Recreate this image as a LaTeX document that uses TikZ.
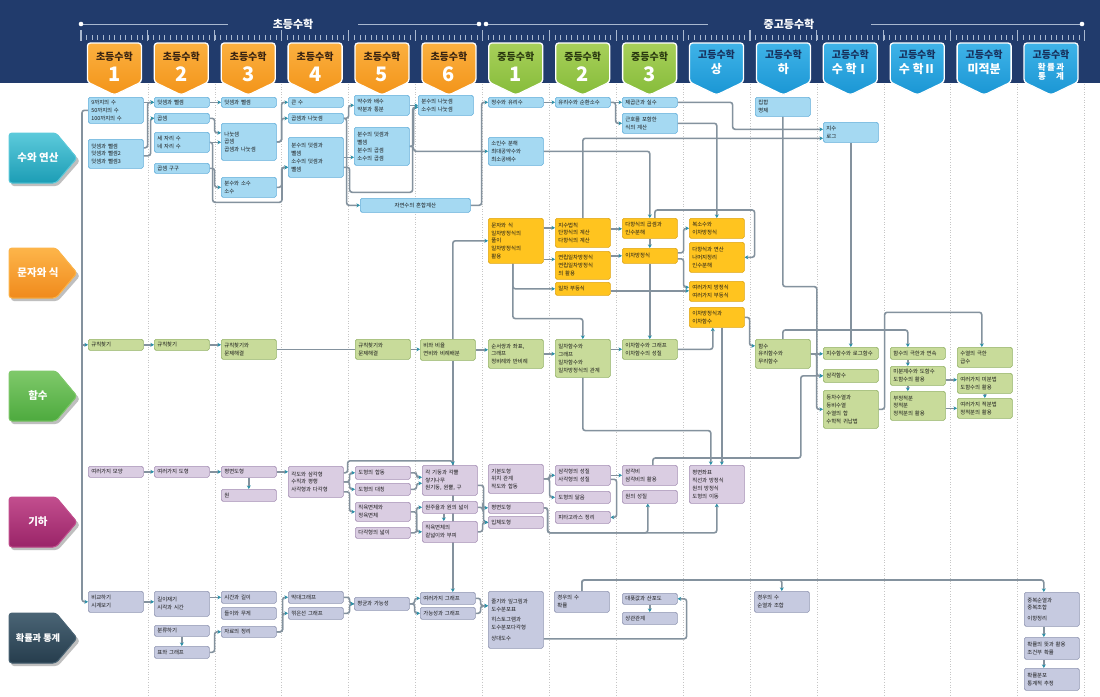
\documentclass[tikz,border=0pt]{standalone}
\usepackage{fontspec}
\setmainfont{Noto Sans CJK KR}
\usepackage{tikz}
\usetikzlibrary{positioning}
\usetikzlibrary{arrows.meta,calc}

\pgfdeclarelayer{grid}
\pgfdeclarelayer{wires}
\pgfsetlayers{grid,wires,main}

\definecolor{headnavy}{HTML}{213B6C}
\definecolor{rulec}{HTML}{A9B8D0}
\definecolor{elem}{HTML}{F39419}
\definecolor{elemhi}{HTML}{FBB040}
\definecolor{midg}{HTML}{86BC3A}
\definecolor{midghi}{HTML}{A8D05A}
\definecolor{high}{HTML}{1A96D4}
\definecolor{highhi}{HTML}{3FB3E8}
\definecolor{elemtxt}{HTML}{3A2412}
\definecolor{midtxt}{HTML}{2B3A10}
\definecolor{hightxt}{HTML}{17305C}
\definecolor{numfill}{HTML}{A5D9F2}
\definecolor{numline}{HTML}{62AEDA}
\definecolor{exprfill}{HTML}{FFC41F}
\definecolor{exprline}{HTML}{E0A512}
\definecolor{funcfill}{HTML}{C8DB9A}
\definecolor{funcline}{HTML}{93B266}
\definecolor{geomfill}{HTML}{DACDE2}
\definecolor{geomline}{HTML}{A58FB4}
\definecolor{statfill}{HTML}{C6CAE0}
\definecolor{statline}{HTML}{9096B2}
\definecolor{wirec}{HTML}{84929E}
\definecolor{tipc}{HTML}{2B90A8}
\definecolor{numband}{HTML}{1C9DB5}
\definecolor{numhi}{HTML}{5CCADB}
\definecolor{exprband}{HTML}{F08A1C}
\definecolor{exprhi}{HTML}{FDB54A}
\definecolor{funcband}{HTML}{4DAA3E}
\definecolor{funchi}{HTML}{7FC96A}
\definecolor{geomband}{HTML}{9A2468}
\definecolor{geomhi}{HTML}{C24E8E}
\definecolor{statband}{HTML}{263D4D}
\definecolor{stathi}{HTML}{4A6475}

\begin{document}
\begin{tikzpicture}[x=1pt, y=-1pt,
    box/.style={anchor=north west, rounded corners=1.6pt, line width=0.6pt, inner xsep=3pt, inner ysep=0.5pt, text width=49pt, align=left, font=\fontsize{5.4}{7.8}\selectfont, text=black!90},
    numbox/.style={box, fill=numfill, draw=numline},
    exprbox/.style={box, fill=exprfill, draw=exprline},
    funcbox/.style={box, fill=funcfill, draw=funcline},
    geombox/.style={box, fill=geomfill, draw=geomline},
    statbox/.style={box, fill=statfill, draw=statline},
    wire/.style={draw=wirec, line width=1.6pt, rounded corners=2.5pt},
    link/.style={wire, -{Stealth[length=3.6pt,width=4pt,color=tipc]}},
    gridline/.style={draw=gray!45, dotted, line width=0.6pt},
    headline/.style={draw=rulec, line width=0.9pt},
    banner/.style={rounded corners=3pt, line width=1pt},
    badge/.style={rounded corners=3pt, draw=white, line width=1.3pt},
    badgetop/.style={font=\bfseries\fontsize{10}{10}\selectfont},
    badgenum/.style={text=white, font=\bfseries\fontsize{20}{20}\selectfont},
    badgesub/.style={text=white, font=\bfseries\fontsize{12}{12}\selectfont},
    rowlabel/.style={text=white, font=\bfseries\fontsize{10.5}{12}\selectfont},
    headtext/.style={text=white, font=\bfseries\fontsize{11}{12}\selectfont}]

\useasboundingbox (0,0) rectangle (1100,696);

\begin{pgfonlayer}{grid}
    \fill[white] (0,0) rectangle (1100,696);
    \fill[headnavy] (0,0) rectangle (1100,83);
    \foreach \k in {1,...,15}
        \draw[gridline] ({81+66.9*\k},84) -- ({81+66.9*\k},696);
\end{pgfonlayer}

% header: titles and ruler
\draw[headline] (81,24) -- (228,24);
\draw[headline] (358,24) -- (479,24);
\draw[headline] (486,24) -- (708,24);
\draw[headline] (871,24) -- (1082,24);
\fill[white] (81,24) circle (2.3pt);
\fill[white] (479,24) circle (2.3pt);
\fill[white] (486,24) circle (2.3pt);
\fill[white] (1082,24) circle (2.3pt);
\node[headtext] (hElem) at (293,24) {초등수학};
\node[headtext] (hHigh) at (789,24) {중고등수학};
\foreach \k in {0,...,180}
    \draw[rulec, line width=0.5pt] ({81+5.575*\k},35) -- ({81+5.575*\k},40);
\foreach \k in {0,...,15}
    \draw[rulec, line width=1.1pt] ({81+66.9*\k},30) -- ({81+66.9*\k},41);

% grade badges
\foreach \n [count=\i from 0] in {1,2,3,4,5,6}{
    \pgfmathsetmacro\cx{114.4+66.9*\i}
    \filldraw[badge, top color=elemhi, bottom color=elem] (\cx-27,43) -- (\cx+27,43) -- (\cx+27,82) -- (\cx,95) -- (\cx-27,82) -- cycle;
    \node[badgetop, text=elemtxt] (be\n) at (\cx,57) {초등수학};
    \node[badgenum] (bne\n) at (\cx,74) {\n};
}
\foreach \n [count=\i from 6] in {1,2,3}{
    \pgfmathsetmacro\cx{114.4+66.9*\i}
    \filldraw[badge, top color=midghi, bottom color=midg] (\cx-27,43) -- (\cx+27,43) -- (\cx+27,82) -- (\cx,95) -- (\cx-27,82) -- cycle;
    \node[badgetop, text=midtxt] (bm\n) at (\cx,57) {중등수학};
    \node[badgenum] (bnm\n) at (\cx,74) {\n};
}
\foreach \s [count=\i from 9] in {상,하,{수 학Ⅰ},{수 학Ⅱ},미적분,{}}{
    \pgfmathsetmacro\cx{114.4+66.9*\i}
    \filldraw[badge, top color=highhi, bottom color=high] (\cx-27,43) -- (\cx+27,43) -- (\cx+27,82) -- (\cx,95) -- (\cx-27,82) -- cycle;
    \node[badgetop, text=hightxt] (bh\i) at (\cx,55) {고등수학};
    \node[badgesub] (bs\i) at (\cx,69) {\s};
}
\node[badgesub, font=\bfseries\fontsize{8.5}{9}\selectfont, align=center] (bsStat) at (1051,72) {확\,률\,과\\통\hspace{1.2em}계};

% row banners
\fill[black!25, rounded corners=3pt] (11,136) -- (58,136) -- (80,161) -- (58,186) -- (11,186) -- cycle;
\filldraw[banner, draw=numhi, top color=numhi, bottom color=numband] (9,133) -- (56,133) -- (77,158) -- (56,183) -- (9,183) -- cycle;
\node[rowlabel] (rNum) at (38,158) {수와 연산};
\fill[black!25, rounded corners=3pt] (11,251) -- (58,251) -- (80,276) -- (58,301) -- (11,301) -- cycle;
\filldraw[banner, draw=exprhi, top color=exprhi, bottom color=exprband] (9,248) -- (56,248) -- (77,273) -- (56,298) -- (9,298) -- cycle;
\node[rowlabel] (rExpr) at (38,273) {문자와 식};
\fill[black!25, rounded corners=3pt] (11,374) -- (58,374) -- (80,399) -- (58,424) -- (11,424) -- cycle;
\filldraw[banner, draw=funchi, top color=funchi, bottom color=funcband] (9,371) -- (56,371) -- (77,396) -- (56,421) -- (9,421) -- cycle;
\node[rowlabel] (rFunc) at (38,396) {함수};
\fill[black!25, rounded corners=3pt] (11,500) -- (58,500) -- (80,525) -- (58,550) -- (11,550) -- cycle;
\filldraw[banner, draw=geomhi, top color=geomhi, bottom color=geomband] (9,497) -- (56,497) -- (77,522) -- (56,547) -- (9,547) -- cycle;
\node[rowlabel] (rGeom) at (38,522) {기하};
\fill[black!25, rounded corners=3pt] (11,616) -- (58,616) -- (80,641) -- (58,666) -- (11,666) -- cycle;
\filldraw[banner, draw=stathi, top color=stathi, bottom color=statband] (9,613) -- (56,613) -- (77,638) -- (56,663) -- (9,663) -- cycle;
\node[rowlabel, font=\bfseries\fontsize{9.2}{10}\selectfont] (rStat) at (38,638) {확률과 통계};

% 수와 연산
\node[numbox, minimum height=26pt] (n1a) at (88,97) {9까지의 수\\50까지의 수\\100까지의 수};
\node[numbox, minimum height=29pt] (n1b) at (88,139) {덧셈과 뺄셈\\덧셈과 뺄셈2\\덧셈과 뺄셈3};
\node[numbox, minimum height=10pt] (n2a) at (154,97) {덧셈과 뺄셈};
\node[numbox, minimum height=10pt] (n2b) at (154,113) {곱셈};
\node[numbox, minimum height=20pt] (n2c) at (154,132) {세 자리 수\\네 자리 수};
\node[numbox, minimum height=10pt] (n2d) at (154,163) {곱셈 구구};
\node[numbox, minimum height=10pt] (n3a) at (221,97) {덧셈과 뺄셈};
\node[numbox, minimum height=37pt] (n3b) at (221,123) {나눗셈\\곱셈\\곱셈과 나눗셈};
\node[numbox, minimum height=20pt] (n3c) at (221,177) {분수와 소수\\소수};
\node[numbox, minimum height=10pt] (n4a) at (288,97) {큰 수};
\node[numbox, minimum height=10pt] (n4b) at (288,113) {곱셈과 나눗셈};
\node[numbox, minimum height=40pt] (n4c) at (288,137) {분수의 덧셈과\\뺄셈\\소수의 덧셈과\\뺄셈};
\node[numbox, minimum height=20pt] (n5a) at (354,95) {약수와 배수\\약분과 통분};
\node[numbox, minimum height=38pt] (n5b) at (354,127) {분수의 덧셈과\\뺄셈\\분수의 곱셈\\소수의 곱셈};
\node[numbox, minimum height=14pt, text width=104pt, align=center] (n5c) at (360,198) {자연수의 혼합계산};
\node[numbox, minimum height=20pt] (n6a) at (418,95) {분수의 나눗셈\\소수의 나눗셈};
\node[numbox, minimum height=10pt] (n7a) at (488,97) {정수와 유리수};
\node[numbox, minimum height=28pt] (n7b) at (488,137) {소인수 분해\\최대공약수와\\최소공배수};
\node[numbox, minimum height=10pt] (n8a) at (555,97) {유리수와 순환소수};
\node[numbox, minimum height=10pt] (n9a) at (622,97) {제곱근과 실수};
\node[numbox, minimum height=20pt] (n9b) at (622,113) {근호를 포함한\\식의 계산};
\node[numbox, minimum height=19pt] (n11a) at (755,97) {집합\\명제};
\node[numbox, minimum height=20pt] (n12a) at (823,122) {지수\\로그};

% 문자와 식
\node[exprbox, minimum height=45pt] (e7a) at (488,218) {문자와 식\\일차방정식의\\풀이\\일차방정식의\\활용};
\node[exprbox, minimum height=29pt] (e8a) at (555,218) {지수법칙\\단항식의 계산\\다항식의 계산};
\node[exprbox, minimum height=28pt] (e8b) at (555,251) {연립일차방정식\\연립일차방정식\\의 활용};
\node[exprbox, minimum height=13pt] (e8c) at (555,282) {일차 부등식};
\node[exprbox, minimum height=20pt] (e9a) at (622,218) {다항식의 곱셈과\\인수분해};
\node[exprbox, minimum height=15pt] (e9b) at (622,248) {이차방정식};
\node[exprbox, minimum height=20pt] (e10a) at (689,218) {복소수와\\이차방정식};
\node[exprbox, minimum height=30pt] (e10b) at (689,242) {다항식과 연산\\나머지정리\\인수분해};
\node[exprbox, minimum height=20pt] (e10c) at (689,281) {여러가지 방정식\\여러가지 부등식};
\node[exprbox, minimum height=20pt] (e10d) at (689,307) {이차방정식과\\이차함수};

% 함수
\node[funcbox, minimum height=11pt] (f1) at (88,339) {규칙찾기};
\node[funcbox, minimum height=11pt] (f2) at (154,339) {규칙찾기};
\node[funcbox, minimum height=20pt] (f3) at (221,339) {규칙찾기와\\문제해결};
\node[funcbox, minimum height=20pt] (f5) at (355,339) {규칙찾기와\\문제해결};
\node[funcbox, minimum height=21pt] (f6) at (420,339) {비와 비율\\연비와 비례배분};
\node[funcbox, minimum height=29pt] (f7) at (488,339) {순서쌍과 좌표,\\그래프\\정비례와 반비례};
\node[funcbox, minimum height=38pt] (f8) at (555,339) {일차함수와\\그래프\\일차함수와\\일차방정식의 관계};
\node[funcbox, minimum height=20pt] (f9) at (622,339) {이차함수와 그래프\\이차함수의 성질};
\node[funcbox, minimum height=29pt] (f11) at (755,339) {함수\\유리함수와\\무리함수};
\node[funcbox, minimum height=12pt] (f12a) at (823,347) {지수함수와 로그함수};
\node[funcbox, minimum height=13pt] (f12b) at (823,369) {삼각함수};
\node[funcbox, minimum height=38pt] (f12c) at (823,390) {등차수열과\\등비수열\\수열의 합\\수학적 귀납법};
\node[funcbox, minimum height=12pt] (f13a) at (890,347) {함수의 극한과 연속};
\node[funcbox, minimum height=19pt] (f13b) at (890,366) {미분계수와 도함수\\도함수의 활용};
\node[funcbox, minimum height=29pt] (f13c) at (890,391) {부정적분\\정적분\\정적분의 활용};
\node[funcbox, minimum height=20pt] (f14a) at (957,347) {수열의 극한\\급수};
\node[funcbox, minimum height=20pt] (f14b) at (957,373) {여러가지 미분법\\도함수의 활용};
\node[funcbox, minimum height=20pt] (f14c) at (957,398) {여러가지 적분법\\정적분의 활용};

% 기하
\node[geombox, minimum height=11pt] (g1) at (88,466) {여러가지 모양};
\node[geombox, minimum height=11pt] (g2) at (154,466) {여러가지 도형};
\node[geombox, minimum height=11pt] (g3a) at (221,466) {평면도형};
\node[geombox, minimum height=12pt] (g3b) at (221,489) {원};
\node[geombox, minimum height=31pt] (g4) at (288,466) {각도와 삼각형\\수직과 평행\\사각형과 다각형};
\node[geombox, minimum height=13pt] (g5a) at (355,466) {도형의 합동};
\node[geombox, minimum height=12pt] (g5b) at (355,483) {도형의 대칭};
\node[geombox, minimum height=19pt] (g5c) at (355,502) {직육면체와\\정육면체};
\node[geombox, minimum height=11pt] (g5d) at (355,527) {다각형의 넓이};
\node[geombox, minimum height=30pt] (g6a) at (422,465) {각 기둥과 각뿔\\쌓기나무\\원기둥, 원뿔, 구};
\node[geombox, minimum height=12pt] (g6b) at (422,501) {원주율과 원의 넓이};
\node[geombox, minimum height=21pt] (g6c) at (422,521) {직육면체의\\겉넓이와 부피};
\node[geombox, minimum height=29pt] (g7a) at (488,464) {기본도형\\위치 관계\\작도와 합동};
\node[geombox, minimum height=11pt] (g7b) at (488,502) {평면도형};
\node[geombox, minimum height=12pt] (g7c) at (488,516) {입체도형};
\node[geombox, minimum height=20pt] (g8a) at (555,465) {삼각형의 성질\\사각형의 성질};
\node[geombox, minimum height=12pt] (g8b) at (555,491) {도형의 닮음};
\node[geombox, minimum height=12pt] (g8c) at (555,511) {피타고라스 정리};
\node[geombox, minimum height=20pt] (g9a) at (622,465) {삼각비\\삼각비의 활용};
\node[geombox, minimum height=13pt] (g9b) at (622,490) {원의 성질};
\node[geombox, minimum height=38pt] (g10) at (689,465) {평면좌표\\직선과 방정식\\원의 방정식\\도형의 이동};

% 확률과 통계
\node[statbox, minimum height=21pt] (p1) at (88,591) {비교하기\\시계보기};
\node[statbox, minimum height=25pt] (p2a) at (154,591) {길이재기\\시각과 시간};
\node[statbox, minimum height=11pt] (p2b) at (154,625) {분류하기};
\node[statbox, minimum height=12pt] (p2c) at (154,646) {표와 그래프};
\node[statbox, minimum height=12pt] (p3a) at (221,591) {시간과 길이};
\node[statbox, minimum height=12pt] (p3b) at (221,607) {들이와 무게};
\node[statbox, minimum height=11pt] (p3c) at (221,626) {자료의 정리};
\node[statbox, minimum height=12pt] (p4a) at (288,591) {막대그래프};
\node[statbox, minimum height=12pt] (p4b) at (288,607) {꺾은선 그래프};
\node[statbox, minimum height=13pt] (p5) at (354,597) {평균과 가능성};
\node[statbox, minimum height=12pt] (p6a) at (420,592) {여러가지 그래프};
\node[statbox, minimum height=12pt] (p6b) at (420,607) {가능성과 그래프};
\node[statbox, minimum height=57pt] (p7) at (488,591) {줄기와 잎그림과\\도수분포표\\[3pt]히스토그램과\\도수분포다각형\\[3pt]상대도수};
\node[statbox, minimum height=21pt] (p8) at (554,591) {경우의 수\\확률};
\node[statbox, minimum height=11pt] (p9a) at (622,593) {대푯값과 산포도};
\node[statbox, minimum height=12pt] (p9b) at (622,612) {상관관계};
\node[statbox, minimum height=21pt] (p11) at (754,591) {경우의 수\\순열과 조합};
\node[statbox, minimum height=34pt] (p15a) at (1024,592) {중복순열과\\중복조합\\[3pt]이항정리};
\node[statbox, minimum height=22pt] (p15b) at (1024,637) {확률의 뜻과 활용\\조건부 확률};
\node[statbox, minimum height=22pt] (p15c) at (1024,668) {확률분포\\통계적 추정};

\begin{pgfonlayer}{wires}
    % spine on the left
    \draw[link] (n1a.west) -| ([xshift=-6pt]p1.west) -- (p1.west);
    \draw[link] ([xshift=-6pt]f1.west) -- (f1.west);

    % 수와 연산
    \draw[link] (n1a.east |- n2a.west) -- (n2a.west);
    \draw[link] ([yshift=6pt]n1b.east) -- ++(4,0) |- (n2a.west);
    \draw[link] ([yshift=-2pt]n1b.east) -- ++(7,0) |- (n2b.west);
    \draw[link] (n2a.east) -- (n3a.west);
    \draw[link] (n2b.east) -- ++(5,0) |- ([yshift=9pt]n3b.west);
    \draw[link] (n2c.east) -- (n2c.east -| n3b.west);
    \draw[link] (n2d.east) -- ++(5,0) |- (n3c.west);
    \draw[link] (n2c.east) -- ++(3,0) -- ++(0,60) -| ([xshift=-6pt,yshift=-10pt]n4c.west) -- ([yshift=-10pt]n4c.west);
    \draw[link] (n3c.east) -- ++(5,0) |- ([yshift=-10pt]n4c.west);
    \draw[link] (n3b.east) -- ++(5,0) |- (n4a.west);
    \draw[link] (n3b.east) -- ++(5,0) |- (n4b.west);
    \draw[link] (n4b.east) -- ++(5,0) |- (n5a.west);
    \draw[link] (n4b.east) -- ++(3,0) |- (n5c.west);
    \draw[link] (n4c.east) -- (n4c.east -| n5b.west);
    \draw[link] ([yshift=-10pt]n4c.east) -- ++(6,0) -- ++(0,25) -- ++(63,0) |- ([yshift=-2pt]n6a.west);
    \draw[link] (n5a.east) -- (n5a.east -| n6a.west);
    \draw[link] (n5b.east) -- ++(4,0) |- ([yshift=-2pt]n6a.west);
    \draw[link] (n5b.east) -- ++(4,0) |- (n7b.west);
    \draw[link] (n5c.east) -- ++(11,0) |- (n7a.west);
    \draw[link] (n7a.east) -- (n8a.west);
    \draw[link] (n8a.east) -- (n9a.west);
    \draw[link] (n8a.east) -- ++(5,0) |- (n9b.west);
    \draw[link] (n9a.east) -- ++(55,0) |- ([yshift=3pt]n12a.west);
    \draw[link] (n9b.east) -| (e10a.north);
    \draw[link] (e8a.north) |- ([yshift=-6pt]n12a.west);
    \draw[link] (n7b.east) -| (e9a.north);
    \draw[link] (n11a.south) -- ++(0,170) -- ++(34,0) |- (f12b.west);
    \draw[link] (n12a.south) -- (f12a.north);

    % 문자와 식
    \draw[link] ($(e7a.east |- e8a.west)+(0,-5)$) -- ($(e8a.west)+(0,-5)$);
    \draw[link] ($(e7a.east |- e8b.west)+(0,-6)$) -- ($(e8b.west)+(0,-6)$);
    \draw[link] ([xshift=-3pt]e7a.south) |- (e8c.west);
    \draw[link] ([xshift=-3pt]e7a.south) -- ++(0,55) -| (f8.north);
    \draw[link] ([yshift=4pt]e8a.east) -- ($(e8a.east -| e9a.west)+(0,-4)$);
    \draw[link] (e8b.east |- e9b.west) -- (e9b.west);
    \draw[link] (e9a.south) -- (e9b.north);
    \draw[link] ([yshift=3pt]e9b.east) -- ++(6,0) |- (e10a.west);
    \draw[link] ([yshift=-3pt]e9b.east) -- ++(6,0) |- ([yshift=4pt]e10c.west);
    \draw[link] ([yshift=-2pt]e8c.east) -- ($(e8c.east -| e10c.west)+(0,2)$);
    \draw[link] ([xshift=5pt]e9a.north) -- ++(0,-8) -| ([xshift=10pt]e10b.east) -- (e10b.east);
    \draw[link] (e9b.south) -- (f9.north);
    \draw[link] (e10d.east) -- ++(5,0) |- ([yshift=8pt]f11.west);
    \draw[link] (f9.east) -| ([xshift=-4pt]e10d.south);
    \draw[link] ([xshift=5pt]e10d.south) -- ($(e10d.south |- g10.north)+(5,0)$);
    \draw[link] (f8.south) -- ++(0,53) -| ([xshift=-6pt]g10.north);

    % 함수
    \draw[link] (f1.east) -- (f2.west);
    \draw[link] (f2.east) -- (f2.east -| f3.west);
    \draw[wire] (f3.east) -- (f5.west);
    \draw[link] (f5.east) -- (f5.east -| f6.west);
    \draw[link] (f6.east) -- (f6.east -| f7.west);
    \draw[link] (f7.east) -- (f7.east -| f8.west);
    \draw[link] (f8.east |- f9.west) -- (f9.west);
    \draw[link] ([xshift=5pt]f6.north) |- (e7a.west);
    \draw[link] ([xshift=5pt]f6.south) -- ($(f6.south |- p6a.north)+(5,0)$);
    \draw[link] (f11.east) -- (f11.east -| f12a.west);
    \draw[link] (f11.east) -- ++(6,0) |- (f12c.west);
    \draw[link] (f11.north) -- ++(0,-9) -| ([xshift=-10pt]f13a.north);
    \draw[link] ([xshift=-10pt]f13a.south) -- ([xshift=-10pt]f13b.north);
    \draw[link] ([xshift=-10pt]f13b.south) -- ([xshift=-10pt]f13c.north);
    \draw[link] ([yshift=-4pt]f13b.east) -- ($(f13b.east -| f14b.west)+(0,4)$);
    \draw[link] (f13c.east |- f14c.west) -- (f14c.west);
    \draw[link] (f14b.south) -- (f14c.north);
    \draw[link] (f12c.east) -- ++(6,0) -- ++(0,-97) -| ([xshift=-3pt]f14a.north);
    \draw[link] ([xshift=3pt]g9a.north) -- ++(0,-7) -- ++(148,0) |- (f12b.west);

    % 기하
    \draw[link] (g1.east) -- (g2.west);
    \draw[link] (g2.east) -- (g3a.west);
    \draw[link] (g3a.south) -- (g3b.north);
    \draw[link] (g3a.east) -- (g3a.east -| g4.west);
    \draw[link] ([yshift=9pt]g4.east) -- ++(4,0) -- ++(0,-12) -| ([xshift=3pt]g6a.north);
    \draw[link] (g4.east) -- ++(6,0) |- (g5a.west);
    \draw[link] (g4.east) -- ++(6,0) |- (g5b.west);
    \draw[link] ([yshift=-10pt]g4.east) -- ++(6,0) |- (g5c.west);
    \draw[link] (g5a.east) -- ++(6,0) |- ([yshift=3pt]g6a.west);
    \draw[link] (g5b.east) -- ++(6,0) |- ([yshift=-3pt]g6a.west);
    \draw[link] (g5c.east) -- ++(6,0) |- (g6c.west);
    \draw[link] (g5d.east) -- ++(6,0) |- (g6b.west);
    \draw[link] ([xshift=-6pt]g6b.south) -- ([xshift=-6pt]g6c.north);
    \draw[link] ([yshift=-5pt]g6a.east) -- ++(6,0) |- (g7c.west);
    \draw[link] (g6b.east) -- ++(5,0) |- (g7b.west);
    \draw[link] (g6c.east) -- ++(5,0) |- (g7c.west);
    \draw[link] (g7a.east) -- ++(6,0) |- (g8a.west);
    \draw[link] (g7a.east) -- ++(6,0) |- (g8b.west);
    \draw[link] (g8a.east) -- (g8a.east -| g9a.west);
    \draw[link] ([yshift=-4pt]g8a.east) -- ++(6,0) |- (g8c.east);
    \draw[link] (g7b.east) -- ++(4,0) -- ++(0,25) -| ([xshift=-2pt]g9b.south);
    \draw[link] (g7b.east) -- ++(4,0) -- ++(0,25) -| (g10.south);

    % 확률과 통계
    \draw[link] (p1.east) -- (p1.east -| p2a.west);
    \draw[link] (p2a.east |- p3a.west) -- (p3a.west);
    \draw[link] (p2b.south) -- (p2c.north);
    \draw[link] (p2c.east) -- ++(5,0) |- (p3c.west);
    \draw[link] (p3c.east) -- ++(6,0) |- (p4a.west);
    \draw[link] (p3c.east) -- ++(6,0) |- (p4b.west);
    \draw[link] (p4a.east) -- ++(6,0) |- (p5.west);
    \draw[link] (p4b.east) -- ++(6,0) |- (p5.west);
    \draw[link] (p5.east) -- ++(5,0) |- (p6a.west);
    \draw[link] (p5.east) -- ++(5,0) |- (p6b.west);
    \draw[link] (p6a.east) -- ++(5,0) |- ([yshift=14pt]p7.west);
    \draw[link] (p6b.east) -- ++(5,0) |- ([yshift=14pt]p7.west);
    \draw[link] ([yshift=-19pt]p7.east) -| ([xshift=9pt]p9a.east) -- (p9a.east);
    \draw[link] (p9a.south) -- (p9b.north);
    \draw[link] (p8.north) -- ++(0,-11) -| (p11.north);
    \draw[link] (p8.north) -- ++(0,-11) -| ([xshift=-8pt]p15a.north);
    \draw[link] ([xshift=-8pt]p15a.south) -- ([xshift=-8pt]p15b.north);
    \draw[link] ([xshift=-8pt]p15b.south) -- ([xshift=-8pt]p15c.north);
\end{pgfonlayer}
\end{tikzpicture}
\end{document}
